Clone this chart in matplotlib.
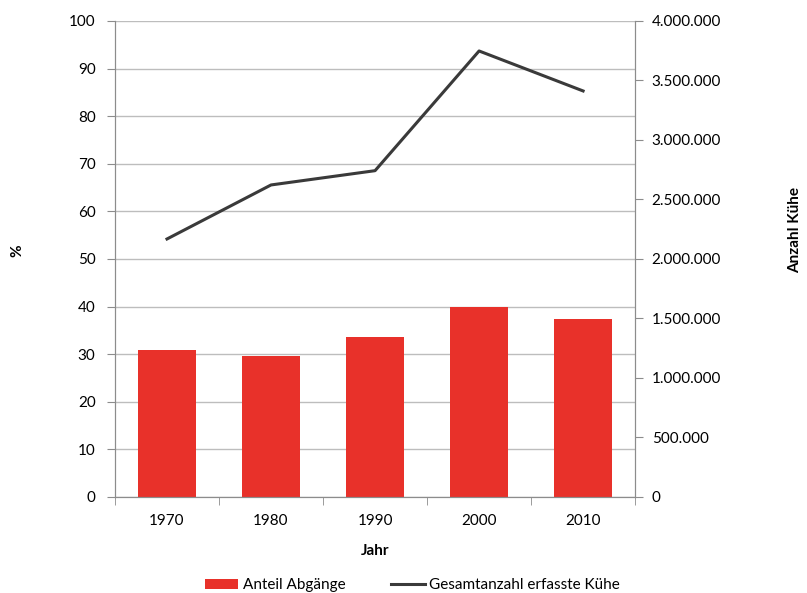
import numpy as np
import matplotlib
matplotlib.use('Agg')
import matplotlib.pyplot as plt
from matplotlib.ticker import FuncFormatter, MultipleLocator

plt.rcParams['font.family'] = ['Lato', 'DejaVu Sans']

jahre = ['1970', '1980', '1990', '2000', '2010']
anteil_abgaenge = [30.8, 29.6, 33.6, 39.9, 37.3]
kuehe = [2168000, 2622000, 2742000, 3748000, 3412000]

bar_farbe = '#E8312A'
linie_farbe = '#3A3A3A'
grau = '#8C8C8C'

fig = plt.figure(figsize=(8.07, 5.93), dpi=100)
ax = fig.add_axes([0.1425, 0.162, 0.6445, 0.8026])
x = np.arange(len(jahre))

ax.bar(x, anteil_abgaenge, width=0.56, color=bar_farbe, zorder=2, label='Anteil Abgänge')
ax.set_xlim(-0.5, len(jahre) - 0.5)
ax.set_ylim(0, 100)
ax.yaxis.set_major_locator(MultipleLocator(10))
ax.grid(axis='y', color='#BDBDBD', linewidth=1, zorder=0)
ax.set_axisbelow(True)
ax.set_xticks(x)
ax.set_xticklabels(jahre)
ax.set_xticks(np.arange(len(jahre) + 1) - 0.5, minor=True)
ax.tick_params(axis='x', which='major', length=0, pad=12, labelsize=11)
ax.tick_params(axis='x', which='minor', length=6, color=grau)
ax.tick_params(axis='y', length=6, color=grau, labelsize=11, pad=8)
ax.set_xlabel('Jahr', fontweight='bold', fontsize=11, labelpad=12)
for s in ['left', 'bottom', 'right']:
    ax.spines[s].set_color(grau)
ax.spines['top'].set_visible(False)

ax2 = ax.twinx()
ax2.plot(x, kuehe, color=linie_farbe, linewidth=2.2, label='Gesamtanzahl erfasste Kühe', zorder=3)
ax2.set_ylim(0, 4000000)
ax2.yaxis.set_major_locator(MultipleLocator(500000))
ax2.yaxis.set_major_formatter(FuncFormatter(lambda v, p: f'{int(v):,}'.replace(',', '.')))
ax2.tick_params(axis='y', length=6, color=grau, labelsize=11, pad=6)
for s in ['left', 'bottom', 'right']:
    ax2.spines[s].set_color(grau)
ax2.spines['top'].set_visible(False)

fig.text(0.022, 0.578, '%', rotation=90, fontweight='bold', fontsize=11, ha='center', va='center')
fig.text(0.985, 0.612, 'Anzahl Kühe', rotation=90, fontweight='bold', fontsize=11, ha='center', va='center')

h1, l1 = ax.get_legend_handles_labels()
h2, l2 = ax2.get_legend_handles_labels()
fig.legend(h1 + h2, l1 + l2, loc='lower center', bbox_to_anchor=(0.511, -0.022), ncol=2,
           frameon=False, fontsize=11, handlelength=2.2, columnspacing=3.0, handletextpad=0.3)

fig.savefig('out.png', dpi=100)
